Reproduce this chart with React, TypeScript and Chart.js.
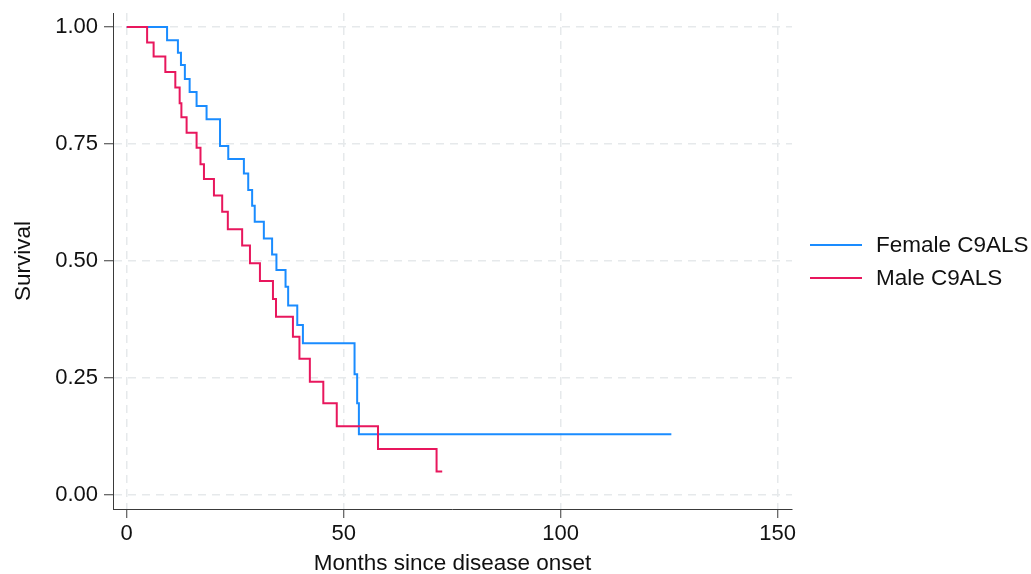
import React, { useEffect, useRef } from "react";
import { Chart, registerables } from "chart.js";

Chart.register(...registerables);

// Kaplan–Meier step data (months since onset, survival after the step)
const femaleMonths = [0, 9.3, 11.8, 12.5, 13.4, 14.5, 16.1, 18.4, 21.5, 23.4, 27.0, 28.0, 28.9, 29.5, 31.6, 33.5, 34.5, 36.6, 37.2, 39.3, 40.6, 52.5, 53.1, 53.5, 125.5];
const femaleSurvival = [1, 0.972, 0.945, 0.919, 0.889, 0.861, 0.831, 0.803, 0.746, 0.718, 0.687, 0.652, 0.618, 0.584, 0.548, 0.514, 0.481, 0.445, 0.405, 0.363, 0.324, 0.258, 0.196, 0.13, 0.13];

const maleMonths = [0, 4.7, 6.2, 8.9, 11.2, 12.2, 12.6, 13.8, 16.1, 17.0, 17.8, 20.1, 22.0, 23.3, 26.6, 28.4, 30.7, 33.7, 34.4, 38.3, 39.8, 42.2, 45.3, 48.4, 57.9, 71.4, 72.7];
const maleSurvival = [1, 0.967, 0.937, 0.904, 0.871, 0.837, 0.807, 0.774, 0.742, 0.707, 0.675, 0.64, 0.605, 0.568, 0.533, 0.495, 0.457, 0.419, 0.381, 0.338, 0.291, 0.242, 0.196, 0.147, 0.098, 0.05, 0.05];

const seriesNames = ["Female C9ALS", "Male C9ALS"];
const seriesColors = ["#1a8cff", "#e8175d"];

const xTicks = [0, 50, 100, 150];
const yTicks = [0, 0.25, 0.5, 0.75, 1];

const xTitle = "Months since disease onset";
const yTitle = "Survival";

const FONT = "'Liberation Sans', Arial, Helvetica, sans-serif";

export default function App() {
  const ref = useRef<HTMLCanvasElement | null>(null);

  useEffect(() => {
    document.body.style.margin = "0";
    const canvas = ref.current;
    if (!canvas) return;

    const toPts = (xs: number[], ys: number[]) => xs.map((x, i) => ({ x, y: ys[i] }));

    const legendPlugin = {
      id: "customLegend",
      afterDraw(chart: any) {
        const ctx = chart.ctx;
        ctx.save();
        const rows = [245, 278];
        seriesNames.forEach((name, i) => {
          ctx.strokeStyle = seriesColors[i];
          ctx.lineWidth = 2;
          ctx.beginPath();
          ctx.moveTo(810, rows[i]);
          ctx.lineTo(862, rows[i]);
          ctx.stroke();
          ctx.fillStyle = "#111";
          ctx.font = `22.5px ${FONT}`;
          ctx.textBaseline = "middle";
          ctx.textAlign = "left";
          ctx.fillText(name, 876, rows[i] + 1);
        });
        ctx.restore();
      },
    };

    const gridColor = "#e6e9eb";
    const axisColor = "#3a3a3a";

    const chart = new Chart(canvas, {
      type: "line",
      data: {
        datasets: [
          {
            label: seriesNames[0],
            data: toPts(femaleMonths, femaleSurvival),
            borderColor: seriesColors[0],
            backgroundColor: seriesColors[0],
            borderWidth: 2,
            pointRadius: 0,
            stepped: true,
            fill: false,
            order: 1,
          },
          {
            label: seriesNames[1],
            data: toPts(maleMonths, maleSurvival),
            borderColor: seriesColors[1],
            backgroundColor: seriesColors[1],
            borderWidth: 2,
            pointRadius: 0,
            stepped: true,
            fill: false,
            order: 0,
          },
        ],
      },
      options: {
        responsive: false,
        animation: false,
        layout: { padding: { left: 0, top: 13, right: 239, bottom: 0 } },
        plugins: {
          legend: { display: false },
          tooltip: { enabled: false },
        },
        scales: {
          x: {
            type: "linear",
            min: -3.16,
            max: 153.3,
            afterFit(scale: any) {
              scale.height = 65;
              scale.paddingLeft = 0;
              scale.paddingRight = 0;
            },
            afterBuildTicks(scale: any) {
              scale.ticks = xTicks.map((v) => ({ value: v }));
            },
            ticks: {
              color: "#111",
              font: { family: FONT, size: 22 },
              padding: 3,
              maxRotation: 0,
              autoSkip: false,
              callback: (v: any) => String(v),
            },
            grid: {
              color: gridColor,
              lineWidth: 1.5,
              tickColor: axisColor,
              tickLength: 9,
              tickWidth: 1,
              tickBorderDash: [],
            },
            border: { display: true, color: axisColor, width: 1, dash: [8, 6] },
            title: {
              display: true,
              text: xTitle,
              color: "#111",
              font: { family: FONT, size: 22.5 },
              padding: { top: 0, bottom: -3 },
            },
          },
          y: {
            type: "linear",
            min: -0.03,
            max: 1.03,
            afterFit(scale: any) {
              scale.width = 113;
              scale.paddingTop = 0;
              scale.paddingBottom = 0;
            },
            afterBuildTicks(scale: any) {
              scale.ticks = yTicks.map((v) => ({ value: v }));
            },
            ticks: {
              color: "#111",
              font: { family: FONT, size: 22 },
              padding: 6,
              autoSkip: false,
              callback: (v: any) => Number(v).toFixed(2),
            },
            grid: {
              color: gridColor,
              lineWidth: 1.5,
              tickColor: axisColor,
              tickLength: 9,
              tickWidth: 1,
              tickBorderDash: [],
            },
            border: { display: true, color: axisColor, width: 1, dash: [8, 6] },
            title: {
              display: true,
              text: yTitle,
              color: "#111",
              font: { family: FONT, size: 22.5 },
              padding: { top: 10, bottom: 0 },
            },
          },
        },
      },
      plugins: [legendPlugin],
    });

    return () => chart.destroy();
  }, []);

  return (
    <div style={{ width: 1031, height: 574 }}>
      <canvas ref={ref} width={1031} height={574} />
    </div>
  );
}
